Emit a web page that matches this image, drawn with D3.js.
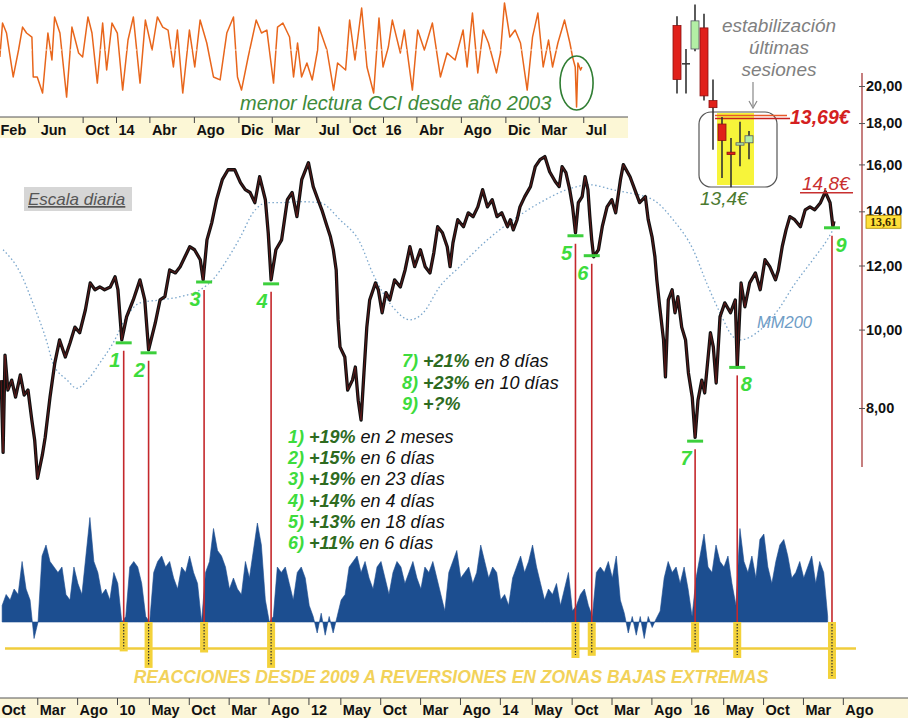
<!DOCTYPE html>
<html><head><meta charset="utf-8">
<script src="https://cdn.jsdelivr.net/npm/d3@7"></script>
<style>
body{margin:0;background:#fff;}
svg{display:block;font-family:"Liberation Sans",Arial,Helvetica,sans-serif;}
</style></head><body>
<svg id="c" width="908" height="718"></svg>
<script>
// ---------------- DATA ----------------
// daily price path (decimal year, €)
const price = [
[2008.79,8.66],[2008.81,7.05],[2008.83,9.30],[2008.86,8.42],[2008.90,8.66],[2008.94,8.25],[2008.99,8.79],[2009.03,8.30],[2009.07,8.42],[2009.11,7.73],[2009.14,7.30],[2009.17,6.55],[2009.22,7.00],[2009.25,7.36],[2009.30,8.25],[2009.35,9.09],[2009.40,9.71],[2009.46,9.25],[2009.51,9.63],[2009.56,10.07],[2009.61,9.91],[2009.67,10.58],[2009.72,11.42],[2009.77,11.20],[2009.82,11.29],[2009.87,11.20],[2009.93,11.29],[2009.98,11.62],[2010.01,11.20],[2010.05,9.71],[2010.10,10.37],[2010.17,10.88],[2010.24,11.52],[2010.29,10.88],[2010.33,9.44],[2010.40,10.19],[2010.45,10.88],[2010.50,10.98],[2010.55,11.85],[2010.61,11.75],[2010.66,11.96],[2010.71,12.30],[2010.76,12.66],[2010.81,12.55],[2010.87,12.20],[2010.90,11.52],[2010.94,12.91],[2010.99,13.55],[2011.04,14.47],[2011.10,15.32],[2011.16,15.76],[2011.23,15.76],[2011.29,15.19],[2011.34,14.89],[2011.39,14.77],[2011.44,14.35],[2011.49,15.45],[2011.55,14.47],[2011.58,13.17],[2011.61,11.52],[2011.66,12.55],[2011.72,12.91],[2011.78,14.47],[2011.83,14.77],[2011.88,13.79],[2011.93,15.32],[2012.00,16.08],[2012.05,15.02],[2012.10,14.47],[2012.14,14.06],[2012.19,13.47],[2012.23,13.02],[2012.26,12.55],[2012.29,11.85],[2012.31,10.28],[2012.33,9.52],[2012.38,9.25],[2012.41,8.42],[2012.46,8.66],[2012.49,8.99],[2012.52,8.18],[2012.55,7.73],[2012.58,8.84],[2012.61,10.07],[2012.64,10.88],[2012.70,11.42],[2012.73,11.20],[2012.77,10.49],[2012.81,11.11],[2012.85,10.88],[2012.90,11.52],[2012.96,11.29],[2013.01,11.85],[2013.06,12.66],[2013.11,11.96],[2013.17,12.55],[2013.22,11.96],[2013.27,11.75],[2013.31,12.44],[2013.35,13.40],[2013.40,13.17],[2013.45,12.66],[2013.48,11.96],[2013.51,12.80],[2013.56,13.67],[2013.62,13.40],[2013.67,13.94],[2013.72,13.79],[2013.77,14.18],[2013.82,14.89],[2013.87,14.18],[2013.92,14.47],[2013.97,13.79],[2014.02,13.94],[2014.08,13.40],[2014.11,13.67],[2014.14,13.28],[2014.18,13.67],[2014.21,14.18],[2014.26,14.60],[2014.32,15.02],[2014.37,15.90],[2014.42,16.22],[2014.47,16.36],[2014.52,15.67],[2014.58,15.23],[2014.62,15.02],[2014.65,15.90],[2014.69,15.63],[2014.73,14.89],[2014.76,14.18],[2014.79,13.17],[2014.82,14.35],[2014.86,14.60],[2014.89,15.45],[2014.92,14.89],[2014.94,13.79],[2014.96,12.91],[2014.98,12.30],[2015.03,12.55],[2015.07,13.40],[2015.12,14.18],[2015.17,14.47],[2015.21,13.94],[2015.26,15.32],[2015.29,15.99],[2015.36,15.45],[2015.41,14.89],[2015.46,14.35],[2015.52,14.60],[2015.55,13.67],[2015.59,13.02],[2015.62,12.30],[2015.64,11.52],[2015.67,10.67],[2015.71,9.71],[2015.73,8.74],[2015.76,10.88],[2015.80,11.20],[2015.83,10.49],[2015.86,10.98],[2015.90,10.07],[2015.94,9.71],[2015.97,8.84],[2016.01,8.25],[2016.04,7.36],[2016.07,8.18],[2016.11,8.66],[2016.14,8.35],[2016.18,9.36],[2016.20,9.91],[2016.23,9.52],[2016.26,8.59],[2016.30,10.37],[2016.35,10.79],[2016.41,10.49],[2016.46,10.88],[2016.48,8.99],[2016.52,11.42],[2016.56,10.67],[2016.61,11.42],[2016.67,11.75],[2016.72,11.20],[2016.77,12.20],[2016.82,11.96],[2016.88,11.52],[2016.91,11.85],[2016.95,12.66],[2016.99,13.28],[2017.03,13.79],[2017.08,13.67],[2017.14,13.40],[2017.19,14.06],[2017.24,14.18],[2017.29,14.06],[2017.35,14.35],[2017.40,14.80],[2017.45,14.35],[2017.48,13.40],[2017.49,13.61]
];
// 200-session moving average
const mm200 = [
[2008.81,12.55],[2008.99,11.75],[2009.12,10.79],[2009.27,9.63],[2009.33,9.09],[2009.48,8.66],[2009.58,8.46],[2009.69,8.66],[2009.82,9.09],[2009.96,9.63],[2010.10,10.37],[2010.24,10.79],[2010.45,10.88],[2010.66,10.98],[2010.87,11.20],[2011.00,11.52],[2011.15,12.20],[2011.29,13.02],[2011.42,13.94],[2011.57,14.35],[2011.70,14.35],[2011.91,14.39],[2012.12,14.35],[2012.33,13.67],[2012.54,12.80],[2012.67,11.75],[2012.88,10.67],[2013.06,10.28],[2013.20,10.49],[2013.37,11.29],[2013.58,11.96],[2013.87,12.91],[2014.14,13.67],[2014.42,14.35],[2014.70,14.89],[2014.94,15.10],[2015.18,14.89],[2015.33,14.77],[2015.60,14.47],[2015.81,13.67],[2016.02,12.55],[2016.16,11.42],[2016.30,10.49],[2016.44,9.79],[2016.51,9.71],[2016.72,9.99],[2016.93,10.67],[2017.06,11.29],[2017.27,12.20],[2017.42,12.91],[2017.48,13.28]
];
// CCI (decimal year, value)
const cci = [
[2013.13,-40],[2013.15,154],[2013.18,97],[2013.23,-154],[2013.27,0],[2013.30,131],[2013.33,97],[2013.37,74],[2013.38,-154],[2013.41,-154],[2013.45,-246],[2013.49,97],[2013.52,-57],[2013.54,189],[2013.58,97],[2013.63,-269],[2013.67,131],[2013.72,-17],[2013.75,-40],[2013.79,189],[2013.82,97],[2013.86,-189],[2013.90,154],[2013.93,-114],[2013.97,154],[2014.01,97],[2014.05,-229],[2014.09,57],[2014.13,189],[2014.18,-189],[2014.22,171],[2014.27,0],[2014.31,189],[2014.35,131],[2014.39,114],[2014.43,-97],[2014.46,114],[2014.50,-246],[2014.55,114],[2014.59,-97],[2014.63,171],[2014.68,40],[2014.73,-154],[2014.78,-171],[2014.83,97],[2014.88,189],[2014.91,-154],[2014.94,-229],[2014.99,-40],[2015.05,171],[2015.09,97],[2015.13,114],[2015.18,-189],[2015.21,131],[2015.25,154],[2015.30,74],[2015.33,-154],[2015.36,40],[2015.39,-154],[2015.43,-74],[2015.47,-171],[2015.51,0],[2015.52,131],[2015.58,0],[2015.63,-229],[2015.66,-74],[2015.72,-114],[2015.75,171],[2015.79,-57],[2015.84,240],[2015.88,-97],[2015.93,-246],[2015.97,183],[2016.00,-97],[2016.04,17],[2016.07,171],[2016.13,-17],[2016.16,114],[2016.22,-229],[2016.26,114],[2016.31,0],[2016.37,154],[2016.43,-154],[2016.48,-17],[2016.54,-57],[2016.60,114],[2016.63,-97],[2016.67,211],[2016.71,-131],[2016.75,114],[2016.79,40],[2016.85,-131],[2016.88,-17],[2016.91,269],[2016.95,74],[2016.99,114],[2017.03,40],[2017.08,-229],[2017.12,74],[2017.16,211],[2017.20,-97],[2017.24,57],[2017.27,-97],[2017.31,40],[2017.36,171],[2017.40,40],[2017.42,-40],[2017.44,-97],[2017.45,-326],[2017.46,-74],[2017.48,-114],[2017.49,-97]
];
// lower oscillator, semi-monthly from oscStart
const oscStart = 2008.80, oscStep = 1/24;
const osc = [15,25,20,30,25,55,30,20,-15,0, 60,70,55,50,45,50,25,20,50,35, 25,60,95,55,45,25,30,20,45,35,
 0,5,50,55,50,35,5,0,45,55, 60,50,55,40,30,50,45,60,45,35, 0,45,55,85,65,60,50,30,40,30,
 25,55,40,65,90,70,20,0,5,50, 45,50,35,20,45,50,40,15,5,-10, 8,-12,5,-10,5,20,25,50,55,60,
 45,55,40,30,50,55,40,25,45,55, 50,35,45,55,40,30,50,45,55,40, 25,10,45,55,65,40,45,50,35,45,
 70,55,40,50,45,20,25,15,40,50, 60,45,55,70,50,35,20,30,25,35, 15,30,45,10,15,25,30,15,5,45,
 50,45,55,40,60,20,8,-10,5,-12, 5,-15,5,-5,3,10,40,55,45,50, 35,50,30,5,40,60,80,50,45,70,
 55,50,60,35,15,85,55,45,60,40, 75,80,50,35,55,70,75,60,40,45, 55,40,50,60,35,55,45,5];
const oscExtremeLevel = -24;
// reversals
const revLabels = ["1","2","3","4","5","6","7","8","9"];
const revDates  = [2010.07,2010.33,2010.91,2011.61,2014.79,2014.96,2016.04,2016.48,2017.47];
const revLows   = [9.63,9.36,11.45,11.39,13.06,12.34,7.28,8.98,13.36];
const revOsc    = [-24,-39,-25,-39,-30,-28,-25,-30,-49];
const revGains  = ["+19%","+15%","+19%","+14%","+13%","+11%","+21%","+23%","+?%"];
const revPeriods= ["en 2 meses","en 6 días","en 23 días","en 4 días","en 18 días","en 6 días","en 8 días","en 10 días",""];
// ticks
const mainTicks = ["2008-10","2009-03","2009-08","2010-01","2010-05","2010-10","2011-03","2011-08","2012-01","2012-05","2012-10","2013-03","2013-08","2014-01","2014-05","2014-10","2015-03","2015-08","2016-01","2016-05","2016-10","2017-03","2017-08"];
const mainTickLabels = ["Oct","Mar","Ago","10","May","Oct","Mar","Ago","12","May","Oct","Mar","Ago","14","May","Oct","Mar","Ago","16","May","Oct","Mar","Ago"];
const cciTicks = ["2013-02","2013-06","2013-10","2014-01","2014-04","2014-08","2014-12","2015-03","2015-07","2015-10","2016-01","2016-04","2016-08","2016-12","2017-03","2017-07"];
const cciTickLabels = ["Feb","Jun","Oct","14","Abr","Ago","Dic","Mar","Jul","Oct","16","Abr","Ago","Dic","Mar","Jul"];
const priceTicks = [8,10,12,14,16,18,20];
const lastPrice = 13.61, peakPrice = 14.8, sessLowRef = 13.4, resistRef = 13.69;
// last sessions (inset)
const sessOpen  = [14.08,13.92,13.98,14.07,13.76,13.66,13.54,13.57,13.58];
const sessHigh  = [14.12,13.98,14.17,14.13,13.85,13.69,13.60,13.67,13.63];
const sessLow   = [13.79,13.79,13.97,13.76,13.55,13.43,13.39,13.48,13.51];
const sessClose = [13.85,13.92,14.10,13.78,13.73,13.59,13.53,13.58,13.61];

// ---------------- DRAW ----------------
const svg = d3.select("#c");
const FONT = '"Liberation Sans",Arial,Helvetica,sans-serif';
const yr = s => { const [a,b] = s.split("-").map(Number); return a + (b-1)/12; };
const comma = v => d3.format(".2f")(v).replace(".", ",");

const x = d3.scaleLinear().domain([2010,2017]).range([117,787]);
const y = d3.scaleLog().domain([8,20]).range([408,86]);
const yOsc = d3.scaleLinear().domain([-50,100]).range([677,512]);
const xC = d3.scaleLinear().domain([2014,2016]).range([116,383]);
const yC = d3.scaleLinear().domain([-350,300]).range([111.25,-2.5]);
const xS = d3.scaleLinear().domain([0,8]).range([677,749]);
const yS = d3.scaleLinear().domain([13.4,13.69]).range([185,117]);

// ---- CCI panel ----
svg.append("rect").attr("x",0).attr("y",117).attr("width",628).attr("height",21).attr("fill","#fcf7d6");
svg.append("path").datum(cci)
  .attr("d", d3.line().x(d=>xC(d[0])).y(d=>yC(d[1])))
  .attr("fill","none").attr("stroke","#e8661c").attr("stroke-width",1.5).attr("stroke-linejoin","round");
svg.append("line").attr("x1",0).attr("x2",xC(2017.42)).attr("y1",yC(0)).attr("y2",yC(0))
  .attr("stroke","#fff").attr("stroke-width",1).attr("stroke-dasharray","2,3").attr("opacity",0.8);
const gc = svg.append("g").attr("transform","translate(0,117)")
  .call(d3.axisBottom(xC).tickValues(cciTicks.map(yr)).tickFormat((d,i)=>cciTickLabels[i]).tickSizeInner(6).tickSizeOuter(0));
gc.select(".domain").remove();
gc.append("line").attr("x1",0).attr("x2",628).attr("stroke","#555");
gc.selectAll(".tick line").attr("stroke","#444");
gc.selectAll(".tick").each(function(d){
  const px = xC(d);
  d3.select(this).select("text").attr("x", px + 2 < 0 ? -px : 2);
});
gc.selectAll(".tick text").attr("y",18).attr("dy",null).attr("text-anchor","start")
  .attr("font-size",14.5).attr("font-weight","bold").attr("fill","#111").attr("font-family",FONT);
svg.append("ellipse").attr("cx",xC(2017.45)).attr("cy",83).attr("rx",16.5).attr("ry",27)
  .attr("fill","none").attr("stroke","#2f7d32").attr("stroke-width",1.6);
svg.append("text").attr("x",240).attr("y",110).attr("font-size",20).attr("font-style","italic")
  .attr("fill","#3e8b3a").text("menor lectura CCI desde año 2003");

// ---- oscillator ----
const oscPts = osc.map((v,i)=>[oscStart + i*oscStep, v]);
svg.append("path").datum(oscPts)
  .attr("d", d3.area().x(d=>x(d[0])).y0(yOsc(0)).y1(d=>yOsc(d[1])))
  .attr("fill","#1c4e90").attr("stroke","#1c4e90").attr("stroke-width",0.6);
svg.append("line").attr("x1",5).attr("x2",856).attr("y1",yOsc(oscExtremeLevel)).attr("y2",yOsc(oscExtremeLevel))
  .attr("stroke","#f0cd3c").attr("stroke-width",2.5);
revDates.forEach((d,i)=>{
  svg.append("rect").attr("x",x(d)-4).attr("y",yOsc(0)).attr("width",8)
    .attr("height",yOsc(revOsc[i])-yOsc(0)+3).attr("fill","#f3d23a");
  svg.append("line").attr("x1",x(d)).attr("x2",x(d)).attr("y1",yOsc(0)+2).attr("y2",yOsc(revOsc[i]))
    .attr("stroke","#333").attr("stroke-width",1.2).attr("stroke-dasharray","1.5,1.5");
});

// ---- red verticals ----
revDates.forEach((d,i)=>{
  svg.append("line").attr("x1",x(d)).attr("x2",x(d)).attr("y1",y(revLows[i])+8).attr("y2",yOsc(0))
    .attr("stroke","#c4282c").attr("stroke-width",1.6);
});

// ---- price ----
svg.append("path").datum(mm200)
  .attr("d", d3.line().curve(d3.curveMonotoneX).x(d=>x(d[0])).y(d=>y(d[1])))
  .attr("fill","none").attr("stroke","#7aa6cc").attr("stroke-width",1.3).attr("stroke-dasharray","1.5,2.5");
const pLine = d3.line().x(d=>x(d[0])).y(d=>y(d[1]));
svg.append("path").datum(price).attr("d",pLine).attr("fill","none")
  .attr("stroke","#111").attr("stroke-width",3.3).attr("stroke-linejoin","round");
svg.append("path").datum(price).attr("d",pLine).attr("fill","none")
  .attr("stroke","#6e1a1a").attr("stroke-width",1).attr("opacity",0.8);

// ---- markers ----
const rightSide = new Set(["8","9"]);
revDates.forEach((d,i)=>{
  const cx = x(d), cy = y(revLows[i]);
  svg.append("line").attr("x1",cx-8).attr("x2",cx+8).attr("y1",cy).attr("y2",cy)
    .attr("stroke","#3ccf3c").attr("stroke-width",3);
  const right = rightSide.has(revLabels[i]);
  svg.append("text").attr("x", right ? cx+9 : cx-9).attr("y", cy+24).attr("text-anchor","middle")
    .attr("font-size",20).attr("font-weight","bold").attr("font-style","italic")
    .attr("fill","#3ddc3d").text(revLabels[i]);
});

// ---- annotation lists ----
function annot(i, ax, ay){
  const t = svg.append("text").attr("x",ax).attr("y",ay).attr("font-size",18).attr("font-style","italic");
  t.append("tspan").attr("font-weight","bold").attr("fill","#3ddc3d").text(revLabels[i]+")");
  t.append("tspan").attr("font-weight","bold").attr("fill","#2e6b1f").text(" "+revGains[i]);
  if (revPeriods[i]) t.append("tspan").attr("fill","#111").text(" "+revPeriods[i]);
}
[6,7,8].forEach((i,k)=>annot(i, 402, 367 + k*21.5));
[0,1,2,3,4,5].forEach((i,k)=>annot(i, 288, 443 + k*21.2));

// ---- labels in main ----
svg.append("rect").attr("x",24).attr("y",187).attr("width",108).attr("height",24).attr("fill","#d6d6d6");
svg.append("text").attr("x",28).attr("y",205).attr("font-size",17).attr("font-style","italic")
  .attr("fill","#555").attr("text-decoration","underline").text("Escala diaria");
svg.append("text").attr("x",757).attr("y",328).attr("font-size",16.5).attr("font-style","italic")
  .attr("fill","#6e9cc6").text("MM200");

// ---- right axis ----
svg.append("line").attr("x1",862).attr("x2",862).attr("y1",73).attr("y2",467).attr("stroke","#a83a3a").attr("stroke-width",1.3);
const gy = svg.append("g").attr("transform","translate(862,0)")
  .call(d3.axisRight(y).tickValues(priceTicks).tickFormat(comma).tickSizeInner(4).tickSizeOuter(0));
gy.select(".domain").remove();
gy.selectAll(".tick line").attr("x1",-3).attr("x2",3).attr("stroke","#555");
gy.selectAll(".tick text").attr("x",4).attr("font-size",14.5).attr("font-weight","bold")
  .attr("fill","#111").attr("font-family",FONT).attr("text-anchor","start");
svg.append("rect").attr("x",866).attr("y",y(lastPrice)-6).attr("width",35).attr("height",13)
  .attr("fill","#ffe03a").attr("stroke","#b08800").attr("stroke-width",0.8);
svg.append("text").attr("x",883.5).attr("y",y(lastPrice)+4.5).attr("text-anchor","middle")
  .attr("font-family","'Liberation Serif','DejaVu Serif',serif").attr("font-weight","bold")
  .attr("font-size",12).attr("fill","#3a2a00").text(comma(lastPrice));
svg.append("line").attr("x1",800).attr("x2",853).attr("y1",y(peakPrice)+1).attr("y2",y(peakPrice)+1)
  .attr("stroke","#c83030").attr("stroke-width",1.4);
svg.append("text").attr("x",802).attr("y",y(peakPrice)-2).attr("font-size",19).attr("font-style","italic")
  .attr("fill","#c93030").text(String(peakPrice).replace(".",",")+"€");

// ---- inset (last sessions) ----
svg.append("rect").attr("x",717).attr("y",113).attr("width",37).attr("height",72).attr("fill","#f7f43a");
svg.append("rect").attr("x",699).attr("y",112).attr("width",78).attr("height",75).attr("rx",12)
  .attr("fill","none").attr("stroke","#555").attr("stroke-width",1.2);
svg.append("line").attr("x1",715).attr("x2",787).attr("y1",yS(resistRef)-1.5).attr("y2",yS(resistRef)-1.5)
  .attr("stroke","#e8582a").attr("stroke-width",1.6);
svg.append("line").attr("x1",715).attr("x2",790).attr("y1",yS(resistRef)+1.5).attr("y2",yS(resistRef)+1.5)
  .attr("stroke","#c82020").attr("stroke-width",1.6);
svg.append("text").attr("x",790).attr("y",yS(resistRef)+7).attr("font-size",19.5).attr("font-weight","bold")
  .attr("font-style","italic").attr("fill","#d42020").text(comma(resistRef)+"€");
const sess = d3.range(sessOpen.length);
svg.selectAll("line.wick").data(sess).join("line").attr("class","wick")
  .attr("x1",i=>xS(i)).attr("x2",i=>xS(i)).attr("y1",i=>yS(sessHigh[i])).attr("y2",i=>yS(sessLow[i]))
  .attr("stroke","#333").attr("stroke-width",1.6);
svg.selectAll("rect.body").data(sess).join("rect").attr("class","body")
  .attr("x",i=>xS(i)-4).attr("width",8)
  .attr("y",i=>yS(Math.max(sessOpen[i],sessClose[i])))
  .attr("height",i=>Math.max(1.5, Math.abs(yS(sessOpen[i])-yS(sessClose[i]))))
  .attr("fill",i=>sessClose[i]>sessOpen[i]?"#b3eea5":(sessClose[i]<sessOpen[i]?"#e0201a":"#333"))
  .attr("stroke",i=>sessClose[i]>sessOpen[i]?"#556":(sessClose[i]<sessOpen[i]?"#8a1010":"none"))
  .attr("stroke-width",0.8);
svg.append("text").attr("x",700).attr("y",yS(sessLowRef)+20).attr("font-size",19).attr("font-style","italic")
  .attr("fill","#4b7a2f").text(String(sessLowRef).replace(".",",")+"€");
const lbl = svg.append("g").attr("font-size",19).attr("font-style","italic").attr("fill","#808080").attr("text-anchor","middle");
lbl.append("text").attr("x",779).attr("y",32).text("estabilización");
lbl.append("text").attr("x",779).attr("y",54).text("últimas");
lbl.append("text").attr("x",779).attr("y",76).text("sesiones");
svg.append("line").attr("x1",753).attr("x2",753).attr("y1",82).attr("y2",106).attr("stroke","#888").attr("stroke-width",1.2);
svg.append("path").attr("d","M749,101 L753,108 L757,101").attr("fill","none").attr("stroke","#888").attr("stroke-width",1.2);

// ---- bottom title ----
svg.append("text").attr("x",451).attr("y",683).attr("text-anchor","middle").attr("font-size",17.5)
  .attr("font-weight","bold").attr("font-style","italic").attr("fill","#f2d25a")
  .text("REACCIONES DESDE 2009 A REVERSIONES EN ZONAS BAJAS EXTREMAS");

// ---- bottom axis ----
svg.append("rect").attr("x",0).attr("y",698).attr("width",908).attr("height",20).attr("fill","#fcf6d8");
const gx = svg.append("g").attr("transform","translate(0,698)")
  .call(d3.axisBottom(x).tickValues(mainTicks.map(yr)).tickFormat((d,i)=>mainTickLabels[i]).tickSizeInner(7).tickSizeOuter(0));
gx.select(".domain").remove();
gx.append("line").attr("x1",0).attr("x2",908).attr("stroke","#555");
gx.selectAll(".tick line").attr("stroke","#444");
gx.selectAll(".tick").each(function(d){
  const px = x(d);
  d3.select(this).select("text").attr("x", px + 2 < 0 ? -px + 1 : 2);
});
gx.selectAll(".tick text").attr("y",17).attr("dy",null).attr("text-anchor","start")
  .attr("font-size",14.5).attr("font-weight","bold").attr("fill","#111").attr("font-family",FONT);
</script>
</body></html>
